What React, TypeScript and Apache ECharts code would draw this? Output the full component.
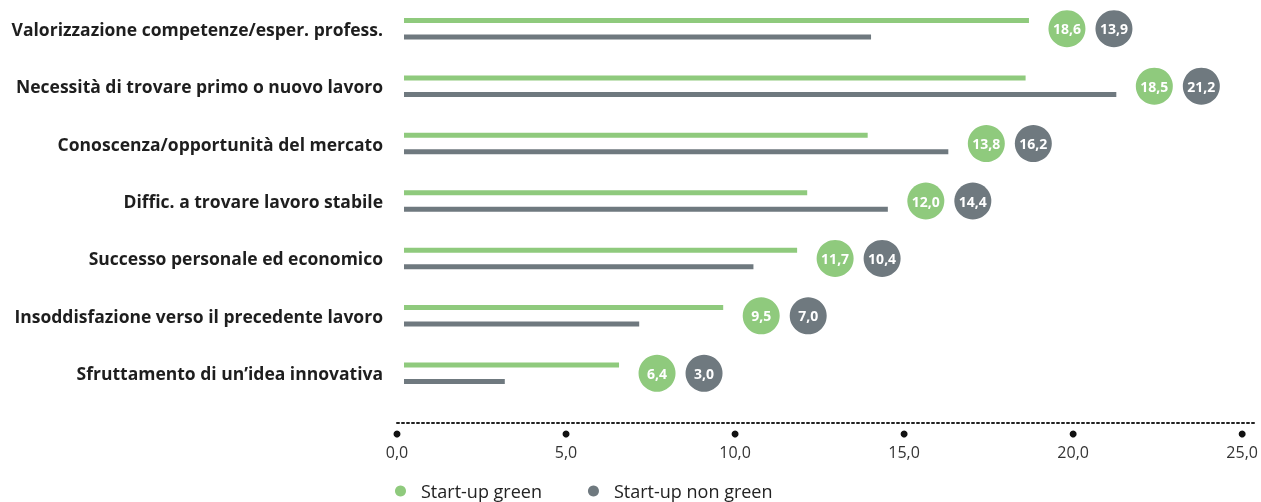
import React, { useEffect, useRef } from "react";
import * as echarts from "echarts";

const categories = [
  "Valorizzazione competenze/esper. profess.",
  "Necessità di trovare primo o nuovo lavoro",
  "Conoscenza/opportunità del mercato",
  "Diffic. a trovare lavoro stabile",
  "Successo personale ed economico",
  "Insoddisfazione verso il precedente lavoro",
  "Sfruttamento di un’idea innovativa",
];
const greenValues = [18.6, 18.5, 13.8, 12.0, 11.7, 9.5, 6.4];
const nonGreenValues = [13.9, 21.2, 16.2, 14.4, 10.4, 7.0, 3.0];
const xTicks = [0, 5, 10, 15, 20, 25];
const seriesNames = ["Start-up green", "Start-up non green"];

const GREEN = "#8fca7d";
const GREY = "#6f797f";
const FONT = "'Open Sans', sans-serif";

const fmt = (v: number) => v.toFixed(1).replace(".", ",");

export default function App() {
  const ref = useRef<HTMLDivElement>(null);
  useEffect(() => {
    if (!ref.current) return;
    const chart = echarts.init(ref.current, null, { renderer: "svg" });
    const maxPoints = categories.map((c, i) => [Math.max(greenValues[i], nonGreenValues[i]), c]);
    chart.setOption({
      animation: false,
      textStyle: { fontFamily: FONT },
      grid: [
        { left: 404, top: -2.5, height: 404.5, width: 840 },
        { left: 397, top: 413, height: 10, width: 857 },
      ],
      xAxis: [
        { gridIndex: 0, type: "value", min: 0, max: 25, show: false },
        {
          gridIndex: 1,
          type: "value",
          min: 0,
          max: 25.35,
          interval: 5,
          axisLine: { show: true, lineStyle: { color: "#222", width: 2, type: [2, 3] } },
          axisTick: { show: false },
          splitLine: { show: false },
          axisLabel: {
            margin: 21,
            fontSize: 16,
            color: "#333",
            fontFamily: FONT,
            showMaxLabel: false,
            formatter: (v: number) => fmt(v),
          },
        },
      ],
      yAxis: [
        {
          gridIndex: 0,
          type: "category",
          inverse: true,
          data: categories,
          axisLine: { show: false },
          axisTick: { show: false },
          splitLine: { show: false },
          axisLabel: {
            margin: 21,
            fontSize: 17.5,
            fontWeight: "bold",
            color: "#1e1e1e",
            fontFamily: FONT,
          },
        },
        { gridIndex: 1, type: "value", min: 0, max: 1, show: false },
      ],
      legend: {
        data: seriesNames,
        left: 395,
        top: 482,
        padding: 0,
        icon: "circle",
        itemWidth: 11,
        itemHeight: 11,
        itemGap: 46,
        formatter: (name: string) => `{t|${name}}`,
        textStyle: {
          fontSize: 18,
          color: "#222",
          fontFamily: FONT,
          rich: {
            t: { fontSize: 18, color: "#222", fontFamily: FONT, padding: [0, 0, 0, 10] },
          },
        },
      },
      series: [
        {
          name: seriesNames[0],
          type: "bar",
          xAxisIndex: 0,
          yAxisIndex: 0,
          data: greenValues,
          barWidth: 5,
          barGap: "230%",
          itemStyle: { color: GREEN },
        },
        {
          name: seriesNames[1],
          type: "bar",
          xAxisIndex: 0,
          yAxisIndex: 0,
          data: nonGreenValues,
          barWidth: 5,
          barGap: "230%",
          itemStyle: { color: GREY },
        },
        {
          name: "green-label",
          type: "scatter",
          xAxisIndex: 0,
          yAxisIndex: 0,
          data: maxPoints,
          symbol: "circle",
          symbolSize: 37,
          symbolOffset: [38, 0],
          clip: false,
          silent: true,
          z: 5,
          itemStyle: { color: GREEN, opacity: 1 },
          label: {
            show: true,
            position: "inside",
            color: "#fff",
            fontWeight: "bold",
            fontSize: 14,
            fontFamily: FONT,
            formatter: (p: any) => fmt(greenValues[p.dataIndex]),
          },
        },
        {
          name: "grey-label",
          type: "scatter",
          xAxisIndex: 0,
          yAxisIndex: 0,
          data: maxPoints,
          symbol: "circle",
          symbolSize: 37,
          symbolOffset: [85, 0],
          clip: false,
          silent: true,
          z: 5,
          itemStyle: { color: GREY, opacity: 1 },
          label: {
            show: true,
            position: "inside",
            color: "#fff",
            fontWeight: "bold",
            fontSize: 14,
            fontFamily: FONT,
            formatter: (p: any) => fmt(nonGreenValues[p.dataIndex]),
          },
        },
        {
          name: "ticks",
          type: "scatter",
          xAxisIndex: 1,
          yAxisIndex: 1,
          data: xTicks.map((v) => [v, 0]),
          symbol: "circle",
          symbolSize: 7,
          symbolOffset: [0, 11],
          clip: false,
          silent: true,
          itemStyle: { color: "#111", opacity: 1 },
        },
      ],
    });
    return () => chart.dispose();
  }, []);
  return (
    <div
      ref={ref}
      style={{ position: "fixed", left: 0, top: 0, width: 1261, height: 502 }}
    />
  );
}
